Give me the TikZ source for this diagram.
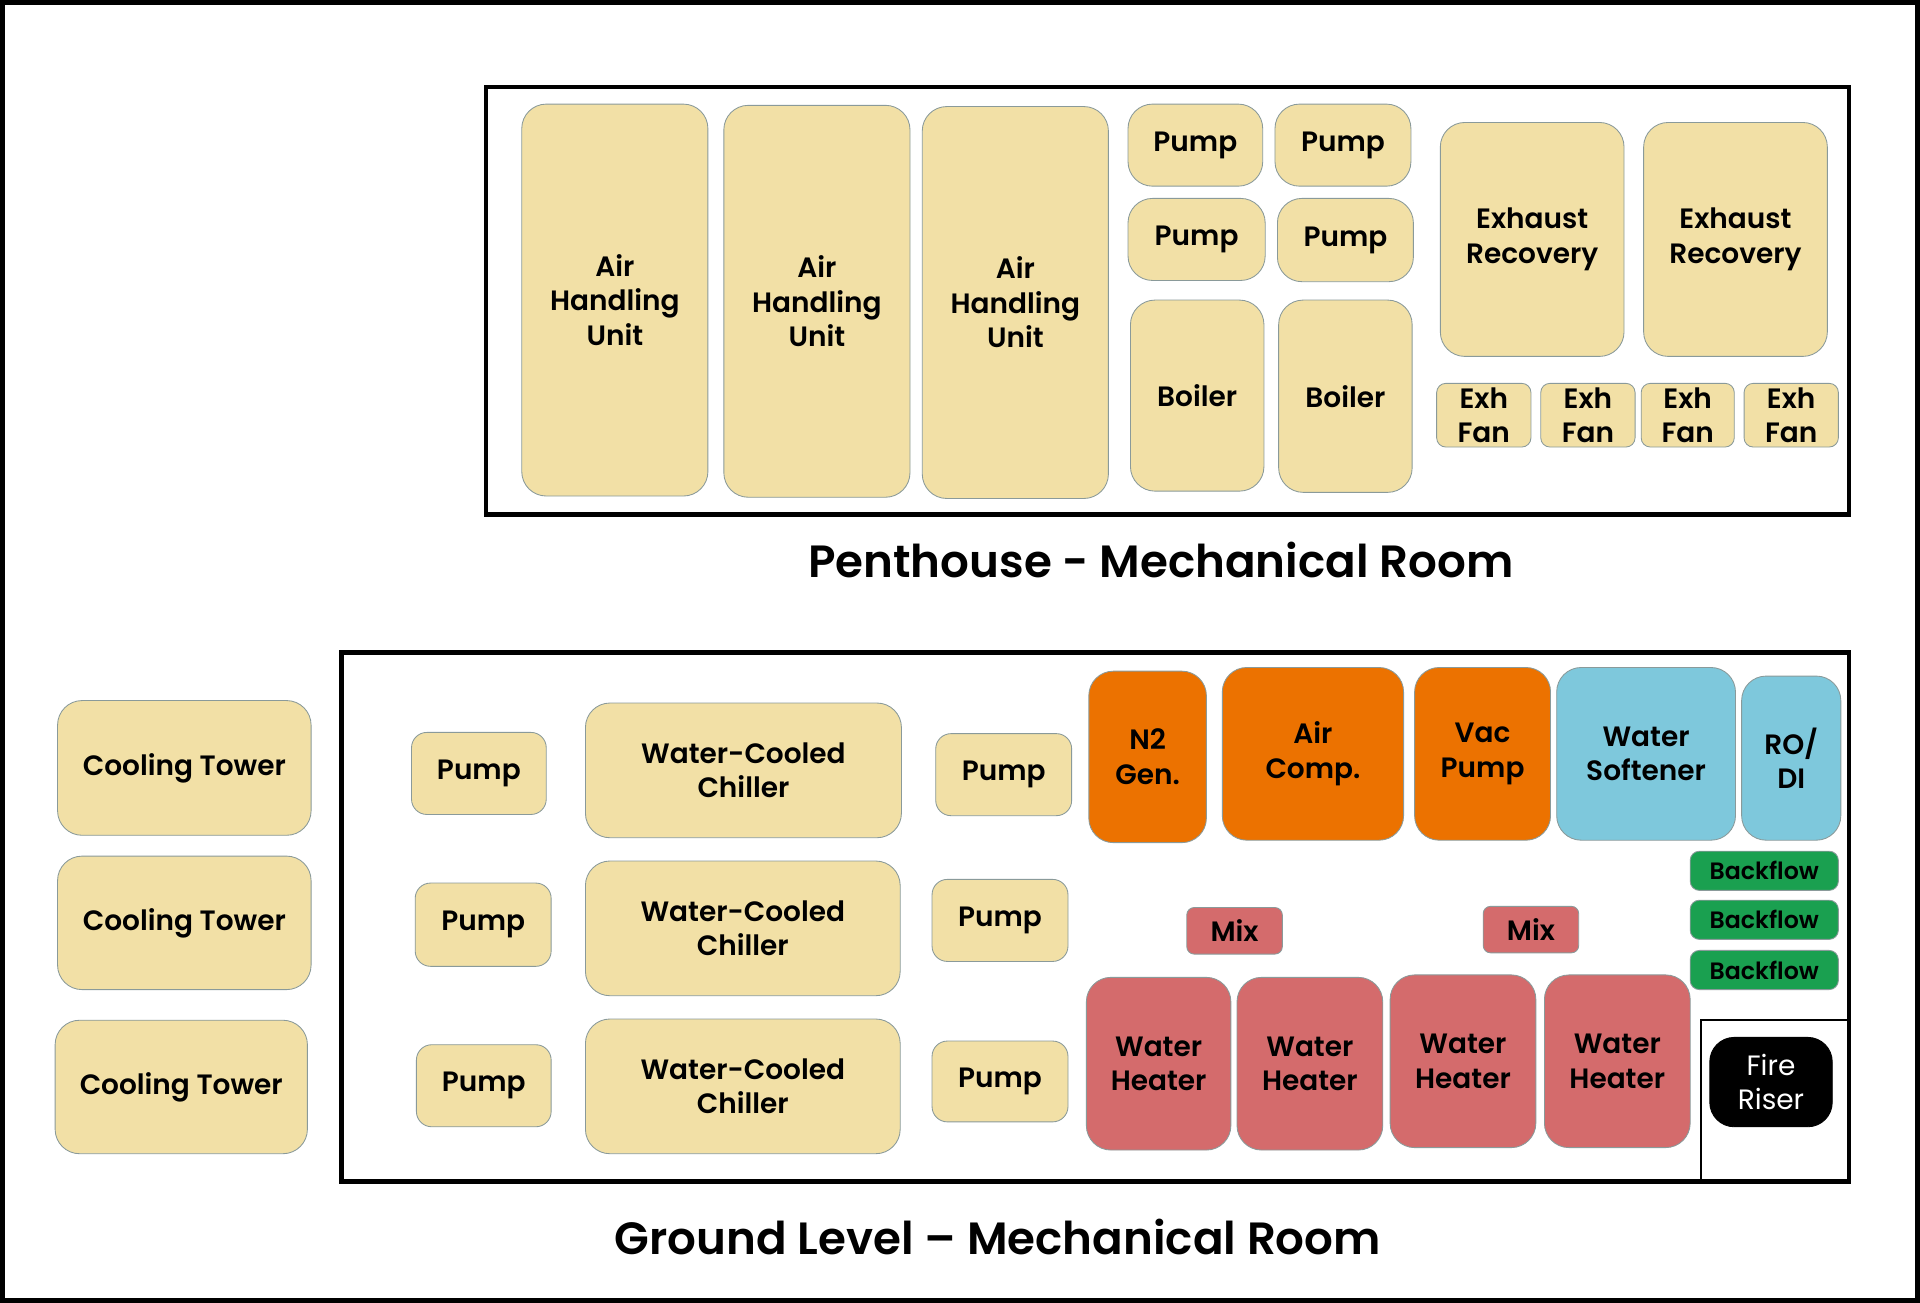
\documentclass[tikz,border=0pt]{standalone}
\usepackage{fontspec}
\setmainfont{Poppins}[BoldFont={* SemiBold}]
\definecolor{beige}{HTML}{F2E0A6}
\definecolor{edge}{HTML}{8A9A9A}
\definecolor{orng}{HTML}{EC7200}
\definecolor{lblue}{HTML}{7EC8DC}
\definecolor{grn}{HTML}{1AA050}
\definecolor{redd}{HTML}{D46B6C}
\tikzset{
 eq/.style={draw=edge, line width=0.4pt, rounded corners=0.4cm, align=center, inner sep=0pt, font=\fontsize{13}{16}\selectfont\bfseries},
 beq/.style={eq, fill=beige},
 oeq/.style={eq, fill=orng},
 leq/.style={eq, fill=lblue},
 geq/.style={eq, fill=grn, rounded corners=0.15cm, font=\fontsize{11}{13}\selectfont\bfseries},
 req/.style={eq, fill=redd},
 meq/.style={eq, fill=redd, rounded corners=0.12cm},
 feq/.style={eq, fill=black, text=white, draw=black, font=\fontsize{13}{16}\selectfont},
 room/.style={draw=black, line width=2.2pt},
 ttl/.style={font=\fontsize{21}{25}\selectfont\bfseries}
}
\newcommand\bx[7]{\pgfmathsetmacro\bw{(#4-#2)*0.02}\pgfmathsetmacro\bh{(#5-#3)*0.02}%
\node[#6, minimum width=\bw cm, minimum height=\bh cm] (#1) at ({(#2+#4)/2*0.02},{-(#3+#5)/2*0.02}) {#7};}
\begin{document}
\begin{tikzpicture}
\useasboundingbox (0,0) rectangle (31.36,-21.28);
\draw[line width=3pt] (0.03,-0.03) rectangle (31.33,-21.25);
% Penthouse
\draw[room] (7.94,-1.42) rectangle (30.2,-8.4);
\bx{ahu1}{426}{85}{578}{405}{beq}{Air\\Handling\\Unit}
\bx{ahu2}{591}{86}{743}{406}{beq}{Air\\Handling\\Unit}
\bx{ahu3}{753}{87}{905}{407}{beq}{Air\\Handling\\Unit}
\bx{pp1}{921}{85}{1031}{152}{beq}{Pump}
\bx{pp2}{1041}{85}{1152}{152}{beq}{Pump}
\bx{pp3}{921}{162}{1033}{229}{beq}{Pump}
\bx{pp4}{1043}{162}{1154}{230}{beq}{Pump}
\bx{bo1}{923}{245}{1032}{401}{beq}{Boiler}
\bx{bo2}{1044}{245}{1153}{402}{beq}{Boiler}
\bx{er1}{1176}{100}{1326}{291}{beq}{Exhaust\\Recovery}
\bx{er2}{1342}{100}{1492}{291}{beq}{Exhaust\\Recovery}
\bx{ef1}{1173}{313}{1250}{365}{beq,rounded corners=0.15cm}{Exh\\Fan}
\bx{ef2}{1258}{313}{1335}{365}{beq,rounded corners=0.15cm}{Exh\\Fan}
\bx{ef3}{1340}{313}{1416}{365}{beq,rounded corners=0.15cm}{Exh\\Fan}
\bx{ef4}{1424}{313}{1501}{365}{beq,rounded corners=0.15cm}{Exh\\Fan}
\node[ttl] (t1) at (18.96,-9.14) {Penthouse - Mechanical Room};
% Ground
\draw[room] (5.58,-10.66) rectangle (30.2,-19.3);
\bx{ct1}{47}{572}{254}{682}{beq}{Cooling Tower}
\bx{ct2}{47}{699}{254}{808}{beq}{Cooling Tower}
\bx{ct3}{45}{833}{251}{942}{beq}{Cooling Tower}
\bx{gp1}{336}{598}{446}{665}{beq,rounded corners=0.25cm}{Pump}
\bx{gp2}{339}{721}{450}{789}{beq,rounded corners=0.25cm}{Pump}
\bx{gp3}{340}{853}{450}{920}{beq,rounded corners=0.25cm}{Pump}
\bx{ch1}{478}{574}{736}{684}{beq}{Water-Cooled\\Chiller}
\bx{ch2}{478}{703}{735}{813}{beq}{Water-Cooled\\Chiller}
\bx{ch3}{478}{832}{735}{942}{beq}{Water-Cooled\\Chiller}
\bx{gp4}{764}{599}{875}{666}{beq,rounded corners=0.25cm}{Pump}
\bx{gp5}{761}{718}{872}{785}{beq,rounded corners=0.25cm}{Pump}
\bx{gp6}{761}{850}{872}{916}{beq,rounded corners=0.25cm}{Pump}
\bx{n2}{889}{548}{985}{688}{oeq}{N2\\Gen.}
\bx{ac}{998}{545}{1146}{686}{oeq}{Air\\Comp.}
\bx{vp}{1155}{545}{1266}{686}{oeq}{Vac\\Pump}
\bx{ws}{1271}{545}{1417}{686}{leq}{Water\\Softener}
\bx{ro}{1422}{552}{1503}{686}{leq}{RO/\\DI}
\bx{bf1}{1380}{695}{1501}{727}{geq}{Backflow}
\bx{bf2}{1380}{735}{1501}{767}{geq}{Backflow}
\bx{bf3}{1380}{776}{1501}{808}{geq}{Backflow}
\bx{mx1}{969}{741}{1047}{779}{meq}{Mix}
\bx{mx2}{1211}{740}{1289}{778}{meq}{Mix}
\bx{wh1}{887}{798}{1005}{939}{req}{Water\\Heater}
\bx{wh2}{1010}{798}{1129}{939}{req}{Water\\Heater}
\bx{wh3}{1135}{796}{1254}{937}{req}{Water\\Heater}
\bx{wh4}{1261}{796}{1380}{937}{req}{Water\\Heater}
\draw[line width=1pt] (27.78,-19.3) -- (27.78,-16.66) -- (30.2,-16.66);
\bx{fr}{1396}{847}{1496}{920}{feq}{Fire\\Riser}
\node[ttl] (t2) at (16.3,-20.2) {Ground Level – Mechanical Room};
\end{tikzpicture}
\end{document}
